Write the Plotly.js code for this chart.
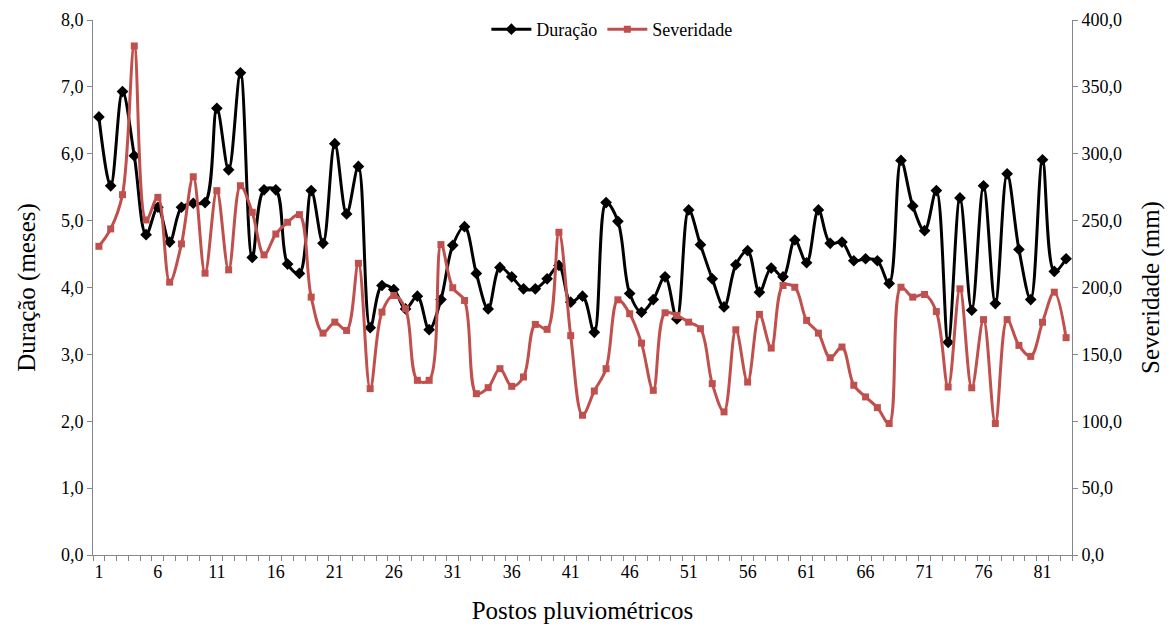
<!DOCTYPE html>
<html>
<head>
<meta charset="utf-8">
<script src="https://cdn.plot.ly/plotly-3.0.1.min.js"></script>
<style>html,body{margin:0;padding:0;background:#fff;}#chart{width:1174px;height:632px;}</style>
</head>
<body>
<div id="chart"></div>
<script>
// Categories: rain-gauge stations 1..83
const postos = [1,2,3,4,5,6,7,8,9,10,11,12,13,14,15,16,17,18,19,20,21,22,23,24,25,26,27,28,29,30,31,32,33,34,35,36,37,38,39,40,41,42,43,44,45,46,47,48,49,50,51,52,53,54,55,56,57,58,59,60,61,62,63,64,65,66,67,68,69,70,71,72,73,74,75,76,77,78,79,80,81,82,83];

// Duração (meses)
const duracao = [6.55,5.52,6.93,5.97,4.79,5.20,4.68,5.20,5.26,5.27,
  6.68,5.76,7.21,4.45,5.46,5.46,4.35,4.21,5.45,4.66,
  6.15,5.10,5.81,3.40,4.03,3.97,3.68,3.87,3.37,3.82,
  4.63,4.91,4.21,3.68,4.30,4.16,3.98,3.98,4.13,4.33,
  3.78,3.87,3.33,5.27,4.99,3.91,3.63,3.82,4.16,3.53,
  5.16,4.64,4.13,3.71,4.34,4.55,3.93,4.29,4.16,4.71,
  4.37,5.16,4.66,4.68,4.40,4.43,4.40,4.06,5.90,5.22,
  4.85,5.45,3.18,5.34,3.66,5.52,3.76,5.70,4.57,3.82,
  5.91,4.24,4.43];

// Severidade (mm)
const severidade = [230.8,243.8,269.4,380.6,250.5,267.4,204.0,232.6,282.8,210.7,
  272.4,213.2,276.1,256.2,224.4,240.0,248.8,254.5,192.8,165.9,
  174.1,167.9,218.1,124.4,181.6,194.0,184.1,130.6,130.6,232.1,
  199.8,190.3,120.6,125.1,139.3,126.1,133.1,172.4,168.7,241.3,
  164.0,104.5,122.6,139.3,190.8,180.4,158.4,123.1,181.1,179.1,
  174.1,169.2,128.1,107.0,168.4,129.3,179.9,154.7,201.5,200.2,
  175.4,165.9,147.5,155.5,126.9,118.2,110.2,98.3,200.2,192.8,
  194.8,182.0,125.6,199.0,125.0,176.0,98.3,176.0,156.7,148.5,
  174.0,196.5,162.5];

// Labelled ticks: every 5th station
const xTickVals = [1,6,11,16,21,26,31,36,41,46,51,56,61,66,71,76,81];

const serif = "'Liberation Serif', 'Times New Roman', serif";
const axisGray = '#868686';

const traces = [
  {
    x: postos, y: duracao, name: 'Duração', type: 'scatter', mode: 'lines+markers',
    line: {color: '#000000', width: 3, shape: 'spline', smoothing: 1},
    marker: {symbol: 'diamond', size: 9, color: '#000000'},
    yaxis: 'y'
  },
  {
    x: postos, y: severidade, name: 'Severidade', type: 'scatter', mode: 'lines+markers',
    line: {color: '#C0504D', width: 3, shape: 'spline', smoothing: 1},
    marker: {symbol: 'square', size: 7, color: '#C0504D'},
    yaxis: 'y2'
  }
];

const layout = {
  width: 1174, height: 632,
  margin: {l: 93, r: 102, t: 19, b: 77},
  paper_bgcolor: '#ffffff', plot_bgcolor: '#ffffff',
  separators: ',.',
  font: {family: serif, size: 17, color: '#000'},
  showlegend: true,
  legend: {
    orientation: 'h', x: 0.53, xanchor: 'center', y: 1.015, yanchor: 'top',
    font: {family: serif, size: 18, color: '#000'}, bgcolor: 'rgba(0,0,0,0)',
    itemwidth: 40
  },
  xaxis: {
    range: [0.5, 83.5], tickmode: 'array', tickvals: xTickVals,
    ticktext: xTickVals.map(String), ticks: '', showgrid: false, zeroline: false,
    showline: true, linecolor: axisGray, linewidth: 1,
    tickfont: {family: serif, size: 18},
    minor: {tickmode: 'linear', tick0: 0.5, dtick: 1, ticks: 'outside', ticklen: 5, tickcolor: axisGray, showgrid: false},
    title: {text: 'Postos pluviométricos', font: {family: serif, size: 25}, standoff: 20}
  },
  yaxis: {
    range: [0, 8], dtick: 1, tickformat: '.1f', showgrid: false, zeroline: false,
    showline: true, linecolor: axisGray, linewidth: 1,
    ticks: 'outside', ticklen: 5, tickcolor: axisGray,
    tickfont: {family: serif, size: 18},
    title: {text: 'Duração (meses)', font: {family: serif, size: 25}, standoff: 18}
  },
  yaxis2: {
    range: [0, 400], dtick: 50, tickformat: '.1f', overlaying: 'y', side: 'right',
    showgrid: false, zeroline: false, showline: true, linecolor: axisGray, linewidth: 1,
    ticks: 'outside', ticklen: 5, tickcolor: axisGray,
    tickfont: {family: serif, size: 18},
    title: {text: 'Severidade (mm)', font: {family: serif, size: 25}, standoff: 20}
  }
};

Plotly.newPlot('chart', traces, layout, {displayModeBar: false, staticPlot: true});
</script>
</body>
</html>
